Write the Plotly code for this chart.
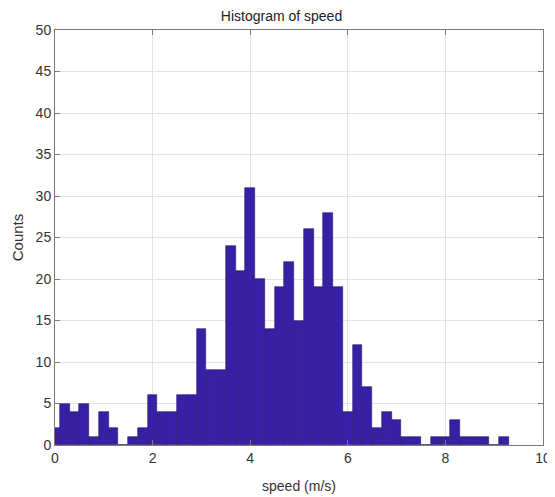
import plotly.graph_objects as go

bin_centers = [round(0.2 * i, 1) for i in range(47)]
counts = [2, 5, 4, 5, 1, 4, 2, 0, 1, 2,
          6, 4, 4, 6, 6, 14, 9, 9, 24, 21,
          31, 20, 14, 19, 22, 15, 26, 19, 28, 19,
          4, 12, 7, 2, 4, 3, 1, 1, 0, 1,
          1, 3, 1, 1, 1, 0, 1]
x_ticks = [0, 2, 4, 6, 8, 10]
y_ticks = list(range(0, 55, 5))

fig = go.Figure(go.Bar(
    x=bin_centers, y=counts, width=0.2,
    marker=dict(color="rgb(55,32,165)", line=dict(color="rgb(40,24,110)", width=0.6)),
))

axis_common = dict(
    showline=True, linecolor="#7a7a7a", linewidth=1, mirror="ticks",
    ticks="inside", ticklen=5, tickcolor="#7a7a7a", automargin=False,
    showgrid=True, gridcolor="#e3e3e3", gridwidth=1, zeroline=False,
    tickfont=dict(family="Liberation Sans, Arial, sans-serif", size=14, color="#333333"),
)

fig.update_layout(
    width=547, height=489,
    margin=dict(l=47, r=12, t=22, b=52),
    paper_bgcolor="white", plot_bgcolor="white",
    bargap=0,
    showlegend=False,
    title=dict(text="Histogram of speed", x=0.5, xanchor="center", y=0.994, yanchor="top",
               font=dict(family="Liberation Sans, Arial, sans-serif", size=14, color="#222222")),
    xaxis=dict(range=[0, 10], tickvals=x_ticks,
               title=dict(text="speed (m/s)", standoff=16,
                          font=dict(family="Liberation Sans, Arial, sans-serif", size=14, color="#333333")),
               **axis_common),
    yaxis=dict(range=[0, 50], tickvals=y_ticks,
               title=dict(text="Counts", standoff=8,
                          font=dict(family="Liberation Sans, Arial, sans-serif", size=15, color="#333333")),
               **axis_common),
)

fig.write_html("out.html")
